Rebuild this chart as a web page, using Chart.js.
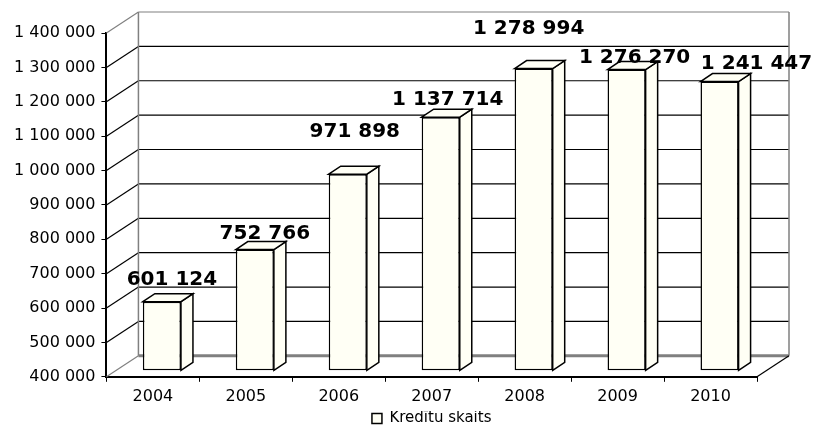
<!DOCTYPE html>
<html>
<head>
<meta charset="utf-8">
<script src="https://cdn.jsdelivr.net/npm/chart.js@4"></script>
<style>
  body { margin: 0; background: #fff; }
  canvas { display: block; }
</style>
</head>
<body>
<canvas id="chart" width="818" height="425"></canvas>
<script>
// Kredītu skaits — 3D column chart, redrawn with Chart.js

const years = ['2004', '2005', '2006', '2007', '2008', '2009', '2010'];
const creditCount = [601124, 752766, 971898, 1137714, 1278994, 1276270, 1241447];
const seriesName = 'Kredītu skaits';
const yMin = 400000;
const yMax = 1400000;
const yStep = 100000;

// layout-only tweaks (wall depth, bar depth, label nudges)
const WALL = { dx: 32, dy: -21 };
const BAR_SHIFT = { dx: 9, dy: -6 };
const BAR_DEPTH = { dx: 12, dy: -8 };
const labelNudge = [[10, -22], [10, -16], [7, -42], [7, -17], [-5, -40], [8, -12], [37, -18]];

const fmt = v => String(v).replace(/\B(?=(\d{3})+(?!\d))/g, ' ');
const FACE = '#FFFFF5';

const walls3d = {
    id: 'walls3d',
    beforeDatasetsDraw(chart) {
        const { ctx, chartArea: a, scales: { y } } = chart;
        ctx.save();
        ctx.lineCap = 'butt';
        for (let v = yMin; v <= yMax; v += yStep) {
            const py = y.getPixelForValue(v);
            const edge = (v === yMin || v === yMax);
            // left side wall diagonal
            ctx.strokeStyle = edge ? '#808080' : '#000';
            ctx.lineWidth = 1.2;
            ctx.beginPath();
            ctx.moveTo(a.left, py);
            ctx.lineTo(a.left + WALL.dx, py + WALL.dy);
            ctx.stroke();
            // back wall line
            if (v === yMin) continue;
            ctx.beginPath();
            ctx.moveTo(a.left + WALL.dx, py + WALL.dy);
            ctx.lineTo(a.right + WALL.dx, py + WALL.dy);
            ctx.stroke();
        }
        const top = y.getPixelForValue(yMax) + WALL.dy;
        const floor = y.getPixelForValue(yMin) + WALL.dy;
        ctx.strokeStyle = '#808080';
        ctx.lineWidth = 1.5;
        ctx.beginPath();
        ctx.moveTo(a.left + WALL.dx, top);
        ctx.lineTo(a.left + WALL.dx, floor);
        ctx.moveTo(a.right + WALL.dx, top);
        ctx.lineTo(a.right + WALL.dx, floor);
        ctx.stroke();
        // back floor edge
        ctx.lineWidth = 3;
        ctx.beginPath();
        ctx.moveTo(a.left + WALL.dx, floor);
        ctx.lineTo(a.right + WALL.dx, floor);
        ctx.stroke();
        // right floor diagonal
        const base = y.getPixelForValue(yMin);
        ctx.strokeStyle = '#000';
        ctx.lineWidth = 1.2;
        ctx.beginPath();
        ctx.moveTo(a.right, base);
        ctx.lineTo(a.right + WALL.dx, base + WALL.dy);
        ctx.stroke();
        ctx.restore();
    },
    beforeDatasetDraw(chart) {
        chart.ctx.save();
        chart.ctx.translate(BAR_SHIFT.dx, BAR_SHIFT.dy);
    },
    afterDatasetDraw(chart, args) {
        const ctx = chart.ctx;
        const meta = args.meta;
        meta.data.forEach(bar => {
            const l = bar.x - bar.width / 2, r = bar.x + bar.width / 2;
            const t = bar.y, b = bar.base;
            ctx.fillStyle = FACE;
            ctx.strokeStyle = '#000';
            ctx.lineWidth = 1.5;
            ctx.lineJoin = 'miter';
            // side face
            ctx.beginPath();
            ctx.moveTo(r, b);
            ctx.lineTo(r + BAR_DEPTH.dx, b + BAR_DEPTH.dy);
            ctx.lineTo(r + BAR_DEPTH.dx, t + BAR_DEPTH.dy);
            ctx.lineTo(r, t);
            ctx.closePath();
            ctx.fill();
            ctx.stroke();
            // top face
            ctx.beginPath();
            ctx.moveTo(l, t);
            ctx.lineTo(l + BAR_DEPTH.dx, t + BAR_DEPTH.dy);
            ctx.lineTo(r + BAR_DEPTH.dx, t + BAR_DEPTH.dy);
            ctx.lineTo(r, t);
            ctx.closePath();
            ctx.fill();
            ctx.stroke();
        });
        ctx.restore();
    },
    afterDatasetsDraw(chart) {
        const ctx = chart.ctx;
        const meta = chart.getDatasetMeta(0);
        ctx.save();
        ctx.font = 'bold 20px "DejaVu Sans"';
        ctx.fillStyle = '#000';
        ctx.textAlign = 'center';
        ctx.textBaseline = 'middle';
        meta.data.forEach((bar, i) => {
            const n = labelNudge[i];
            ctx.fillText(fmt(creditCount[i]), bar.x + BAR_SHIFT.dx + n[0], bar.y + BAR_SHIFT.dy + n[1]);
        });
        ctx.restore();
    }
};

new Chart(document.getElementById('chart'), {
    type: 'bar',
    data: {
        labels: years,
        datasets: [{
            label: seriesName,
            data: creditCount,
            base: yMin,
            backgroundColor: FACE,
            borderColor: '#000',
            borderWidth: 1.5,
            borderSkipped: false,
            categoryPercentage: 1,
            barPercentage: 0.41,
            clip: false
        }]
    },
    options: {
        responsive: false,
        animation: false,
        events: [],
        layout: { padding: { top: 33, right: 61, left: 8, bottom: -11 } },
        scales: {
            x: {
                grid: { drawOnChartArea: false, drawTicks: true, tickLength: 5, color: '#000', lineWidth: 1 },
                border: { display: true, color: '#000', width: 2 },
                ticks: { color: '#000', padding: 5, font: { family: 'DejaVu Sans', size: 16 } }
            },
            y: {
                min: yMin,
                max: yMax,
                grid: { drawOnChartArea: false, drawTicks: true, tickLength: 5, color: '#000', lineWidth: 1 },
                border: { display: true, color: '#000', width: 2 },
                ticks: {
                    stepSize: yStep,
                    color: '#000',
                    padding: 6,
                    font: { family: 'DejaVu Sans', size: 16 },
                    callback: v => fmt(v)
                }
            }
        },
        plugins: {
            legend: {
                position: 'bottom',
                fullSize: false,
                labels: {
                    color: '#000',
                    boxWidth: 10,
                    boxHeight: 10,
                    padding: 0,
                    font: { family: 'DejaVu Sans', size: 15 }
                }
            },
            tooltip: { enabled: false }
        }
    },
    plugins: [walls3d]
});
</script>
</body>
</html>
